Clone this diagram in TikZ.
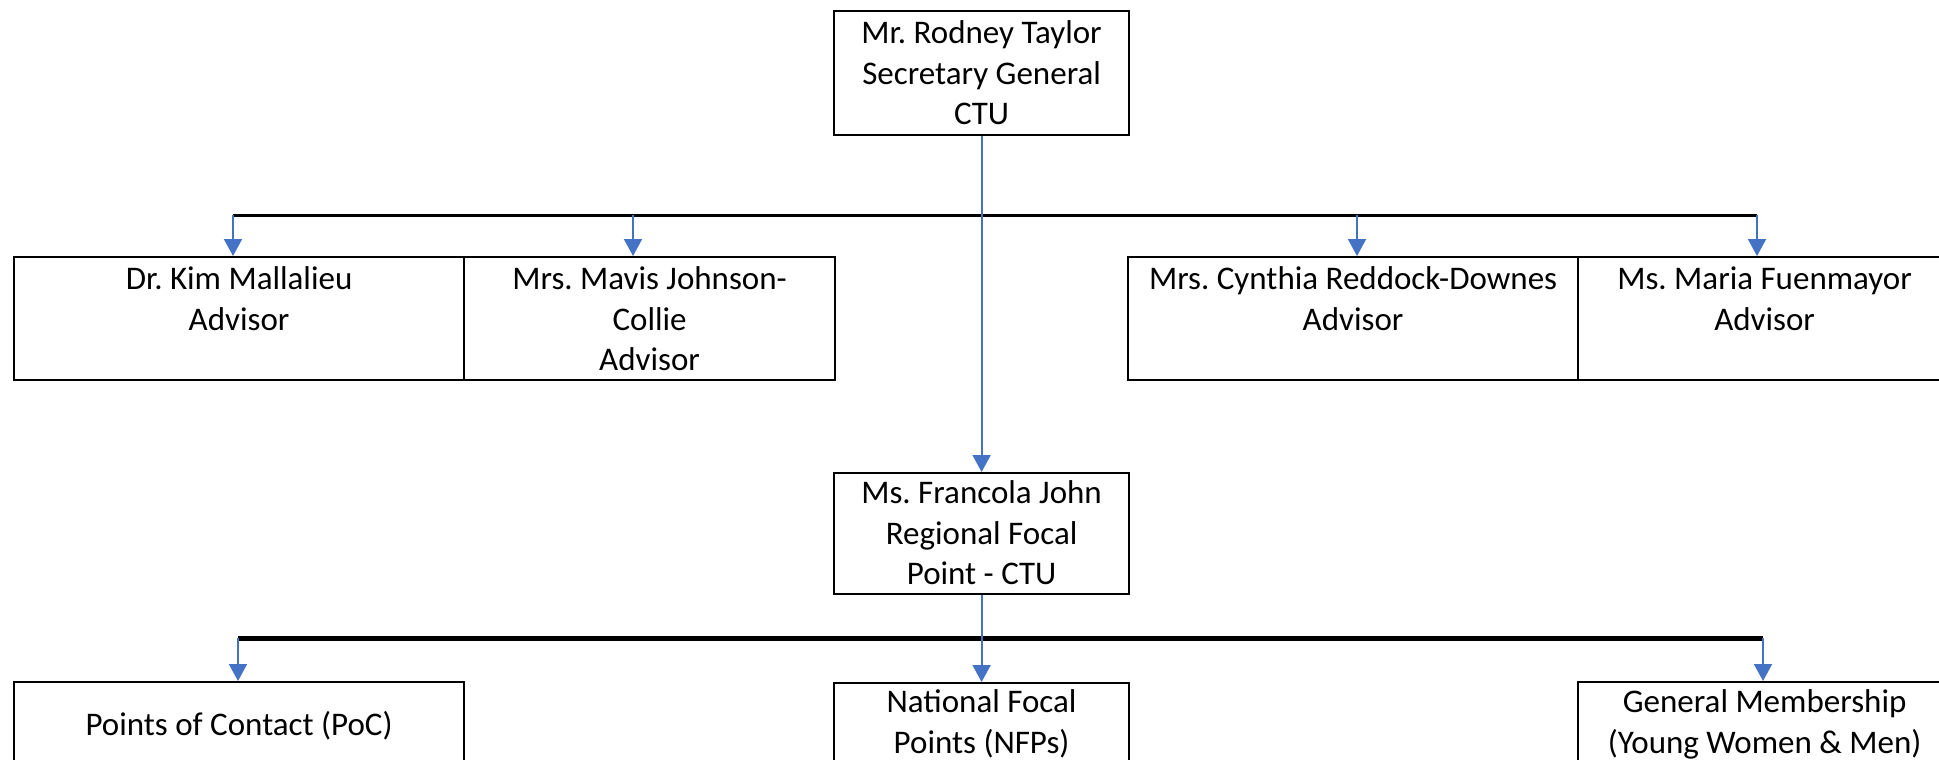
\documentclass[tikz,border=0pt]{standalone}
\usepackage{fontspec}
\setmainfont{Carlito}
\usetikzlibrary{arrows.meta}
\definecolor{arrblue}{HTML}{4472C4}
\frenchspacing
\begin{document}
\begin{tikzpicture}[x=1pt,y=-1pt,
  box/.style={draw=black, line width=2.2pt, inner sep=0pt, anchor=north west},
  txt/.style={anchor=north, inner sep=0pt, align=center, font=\fontsize{33}{40.5}\selectfont},
  bus/.style={draw=black, line width=3pt},
  arr/.style={draw=arrblue, line width=2pt, -{Triangle[width=18pt,length=17pt]}},
]
\clip (0,0) rectangle (1939,760);
\fill[white] (0,0) rectangle (1939,760);

% boxes
\node[box, minimum width=295pt, minimum height=124pt] (top) at (833,10) {};
\node[box, minimum width=450pt, minimum height=123pt] (kim) at (13,256) {};
\node[box, minimum width=371pt, minimum height=123pt] (mavis) at (463,256) {};
\node[box, minimum width=450pt, minimum height=123pt] (cyn) at (1127,256) {};
\node[box, minimum width=373pt, minimum height=123pt] (maria) at (1577,256) {};
\node[box, minimum width=295pt, minimum height=121pt] (fran) at (833,472) {};
\node[box, minimum width=450pt, minimum height=120pt] (poc) at (13,681) {};
\node[box, minimum width=295pt, minimum height=120pt] (nfp) at (833,682) {};
\node[box, minimum width=373pt, minimum height=120pt] (gm) at (1577,681) {};

% texts
\node[txt] (ttop) at ([yshift=-5pt]top.north) {\strut Mr. Rodney Taylor\\Secretary General\\CTU};
\node[txt] (tkim) at ([yshift=-5pt]kim.north) {\strut Dr. Kim Mallalieu\\Advisor};
\node[txt] (tmavis) at ([yshift=-5pt]mavis.north) {\strut Mrs. Mavis Johnson-\\Collie\\Advisor};
\node[txt] (tcyn) at ([yshift=-5pt]cyn.north) {\strut Mrs. Cynthia Reddock-Downes\\Advisor};
\node[txt] (tmaria) at ([yshift=-5pt]maria.north) {\strut Ms. Maria Fuenmayor\\Advisor};
\node[txt] (tfran) at ([yshift=-3pt]fran.north) {\strut Ms. Francola John\\Regional Focal\\Point - CTU};
\node[txt] (tpoc) at ([yshift=-26pt]poc.north) {\strut Points of Contact (PoC)};
\node[txt] (tnfp) at ([yshift=-2pt]nfp.north) {\strut National Focal\\Points (NFPs)};
\node[txt] (tgm) at ([yshift=-3pt]gm.north) {\strut General Membership\\(Young Women \& Men)};

% upper bus
\coordinate (u1) at (233,215);
\coordinate (u2) at (633,215);
\coordinate (u3) at (1357,215);
\coordinate (u4) at (1757,215);
\draw[bus] (u1) -- (u4);
\draw[arr] (u1) -- (u1 |- kim.north);
\draw[arr] (u2) -- (u2 |- mavis.north);
\draw[arr] (u3) -- (u3 |- cyn.north);
\draw[arr] (u4) -- (u4 |- maria.north);

% lower bus
\coordinate (l1) at (238,638);
\coordinate (l3) at (1763,638);
\draw[bus, line width=5pt] (l1) -- (l3);
\draw[arr] (l1) -- (l1 |- poc.north);
\draw[arr] (l3) -- (l3 |- gm.north);

% vertical chain
\draw[arr] (top.south) -- (fran.north);
\draw[arr] (fran.south) -- (nfp.north);
\end{tikzpicture}
\end{document}
